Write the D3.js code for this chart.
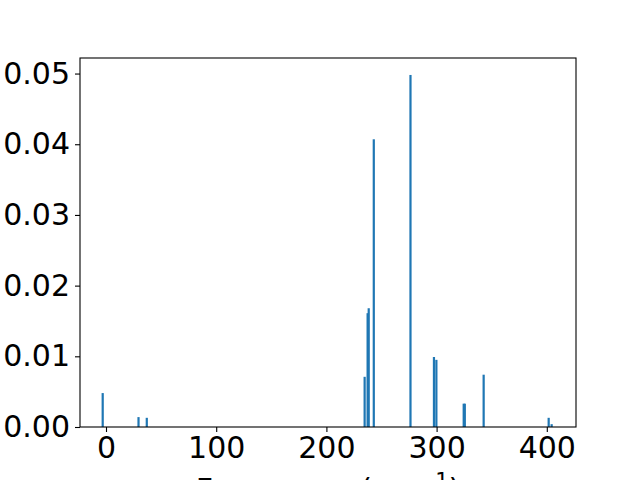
<!DOCTYPE html>
<html>
<head>
<meta charset="utf-8">
<script src="https://cdn.jsdelivr.net/npm/d3@7"></script>
<style>
  body { margin: 0; background: #fff; }
  svg { display: block; }
</style>
</head>
<body>
<script>
// spectrum: frequency (cm^-1) and intensity
var freqs = [-3, 29.5, 37, 234.7, 237.4, 238.4, 243, 276.3, 297.6, 299.8, 324.6, 325.6, 342.7, 401.7, 404.4];
var intensities = [0.0048, 0.0014, 0.0013, 0.0071, 0.0161, 0.0168, 0.0407, 0.0498, 0.0099, 0.0095, 0.0033, 0.0033, 0.0074, 0.0013, 0.0004];
var xTicks = [0, 100, 200, 300, 400];
var yTicks = [0, 0.01, 0.02, 0.03, 0.04, 0.05];
var barWidth = 2;

var W = 640, H = 480;
var margin = { left: 80, right: 64, top: 58, bottom: 53 };
var fontSize = 30;

var svg = d3.select('body').append('svg')
  .attr('width', W)
  .attr('height', H)
  .style('font-family', '"DejaVu Sans", sans-serif');

var x = d3.scaleLinear()
  .domain([-23.6, 426.5])
  .range([margin.left, W - margin.right]);

var y = d3.scaleLinear()
  .domain([0, 0.0522])
  .range([H - margin.bottom, margin.top]);

var data = freqs.map(function (f, i) {
  return { f: f, v: intensities[i] };
});

svg.append('g')
  .selectAll('rect')
  .data(data)
  .enter().append('rect')
  .attr('x', function (d) { return x(d.f - barWidth / 2); })
  .attr('width', function (d) { return x(d.f + barWidth / 2) - x(d.f - barWidth / 2); })
  .attr('y', function (d) { return y(d.v); })
  .attr('height', function (d) { return y(0) - y(d.v); })
  .attr('fill', '#1f77b4');

var xAxis = svg.append('g')
  .attr('transform', 'translate(0,' + (H - margin.bottom) + ')')
  .call(d3.axisBottom(x).tickValues(xTicks).tickFormat(d3.format('d')).tickSize(5).tickPadding(5));

var yAxis = svg.append('g')
  .attr('transform', 'translate(' + margin.left + ',0)')
  .call(d3.axisLeft(y).tickValues(yTicks).tickFormat(d3.format('.2f')).tickSize(5).tickPadding(5));

[xAxis, yAxis].forEach(function (ax) {
  ax.select('.domain').remove();
  ax.selectAll('line').attr('stroke', '#000').attr('stroke-width', 1.1);
  ax.selectAll('text')
    .attr('fill', '#000')
    .style('font-size', fontSize + 'px')
    .style('font-family', '"DejaVu Sans", sans-serif');
});

// frame
svg.append('rect')
  .attr('x', margin.left)
  .attr('y', margin.top)
  .attr('width', W - margin.left - margin.right)
  .attr('height', H - margin.top - margin.bottom)
  .attr('fill', 'none')
  .attr('stroke', '#000')
  .attr('stroke-width', 1.1);

// x label, mostly off the bottom edge as in the original
var xl = svg.append('text')
  .attr('x', (margin.left + W - margin.right) / 2)
  .attr('y', H - margin.bottom + 50 + fontSize * 0.76)
  .attr('text-anchor', 'middle')
  .style('font-size', fontSize + 'px')
  .text('Frequency (cm');
xl.append('tspan')
  .attr('dy', -fontSize * 0.4)
  .style('font-size', (fontSize * 0.7) + 'px')
  .text('\u22121');
xl.append('tspan')
  .attr('dy', fontSize * 0.4)
  .text(')');
</script>
</body>
</html>
